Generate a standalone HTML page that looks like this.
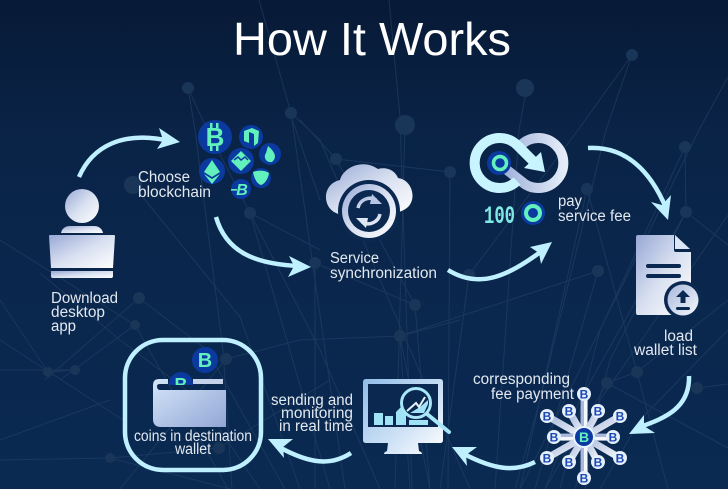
<!DOCTYPE html>
<html><head><meta charset="utf-8"><style>
html,body{margin:0;padding:0;background:#0a2850;width:728px;height:489px;overflow:hidden}
svg{display:block}
text{font-family:"Liberation Sans",sans-serif}
.l{font-size:15.5px;fill:#e2e8f0}
.c{font-family:"Liberation Sans",sans-serif;font-weight:bold}
</style></head><body>
<svg width="728" height="489" viewBox="0 0 728 489" xmlns="http://www.w3.org/2000/svg">
<defs>
<linearGradient id="bg" x1="0" y1="0" x2="0" y2="1"><stop offset="0" stop-color="#071a37"/><stop offset=".3" stop-color="#0a2448"/><stop offset="1" stop-color="#0a2a52"/></linearGradient>
<linearGradient id="g" x1="0" y1="0" x2="1" y2="1"><stop offset="0" stop-color="#98a8d6"/><stop offset=".5" stop-color="#d8e0f0"/><stop offset="1" stop-color="#fff"/></linearGradient>
<linearGradient id="gm" x1="0" y1="0" x2="1" y2="1"><stop offset="0" stop-color="#90bce8"/><stop offset=".6" stop-color="#cfe2f6"/><stop offset="1" stop-color="#fff"/></linearGradient>
<linearGradient id="gw" x1="0" y1="0" x2="1" y2="1"><stop offset="0" stop-color="#d4e6f8"/><stop offset="1" stop-color="#92a6d6"/></linearGradient>
<linearGradient id="gi" x1="0" y1="0" x2="1" y2="1"><stop offset="0" stop-color="#a9b8dc"/><stop offset="1" stop-color="#f4f8fc"/></linearGradient>
<linearGradient id="gs" x1="0" y1="0" x2="1" y2="0"><stop offset="0" stop-color="#a3b4dc"/><stop offset="1" stop-color="#e4ecf8"/></linearGradient>
<clipPath id="cw"><rect x="160" y="360" width="50" height="25"/></clipPath>
</defs>
<rect width="728" height="489" fill="url(#bg)"/>

<!-- network -->
<g stroke="#27466c" stroke-width="1" fill="none" opacity=".55">
<path d="M259 0L291 113L345 489M291 113L320 140L470 489M389 0L400 117L412 489M405 125L395 489M188 88L195 130L223 350L232 489M188 88L205 125L320 350L380 489"/>
<path d="M525 97L519 130L495 489M632 55L578 130L469 275L440 489M632 55L606 130L540 400L515 489M728 77L699 130L640 250L520 489M336 159L450 172L448 489M336 159L300 120M336 159L415 305L430 489M315 263L315 489M315 263L415 305M133 185L240 317L300 489"/>
<path d="M250 213L320 250M250 213L330 489M290 113L320 200M400 336L598 271L535 489M400 336L410 489M587 189L637 372L668 489M587 189L520 489M685 147L600 330L560 489M686 212L580 400L545 489M686 212L728 245M685 147L686 212L610 360L575 489M728 215L600 400L585 489"/>
<path d="M607 383L728 448M637 372L607 383M637 372L728 300M697 388L728 384M607 383L545 489M728 330L640 420L600 489"/>
<path d="M0 240L135 325L228 489M40 273L120 340L200 400L260 489M139 298L45 380M139 298L207 350L285 489M135 325L60 380M0 370L75 370L48 372M0 460L110 458L219 448M0 340L123 420M0 440L110 400M219 448L330 380M226 359L120 489M226 359L300 340L400 336L430 489M400 336L460 320M110 458L230 489M0 300L48 372"/>
</g>
<g fill="#193557">
<circle cx="188" cy="88" r="6"/><circle cx="291" cy="113" r="6"/><circle cx="525" cy="88" r="9"/><circle cx="632" cy="55" r="6"/><circle cx="405" cy="125" r="10"/>
<circle cx="133" cy="185" r="9"/><circle cx="250" cy="213" r="6"/><circle cx="139" cy="298" r="6"/><circle cx="315" cy="263" r="6"/><circle cx="336" cy="159" r="6"/><circle cx="450" cy="172" r="6"/><circle cx="415" cy="305" r="6"/><circle cx="469" cy="275" r="6"/><circle cx="400" cy="336" r="6"/><circle cx="598" cy="271" r="6"/><circle cx="587" cy="189" r="6"/><circle cx="685" cy="147" r="6"/><circle cx="686" cy="212" r="6"/><circle cx="226" cy="359" r="6"/><circle cx="219" cy="448" r="6"/><circle cx="110" cy="458" r="5"/><circle cx="607" cy="383" r="6"/><circle cx="637" cy="372" r="6"/><circle cx="697" cy="388" r="6"/><circle cx="135" cy="325" r="5"/><circle cx="75" cy="370" r="5"/><circle cx="48" cy="372" r="5"/>
</g>

<text x="372" y="55" text-anchor="middle" font-size="46" fill="#fff" textLength="278" lengthAdjust="spacingAndGlyphs">How It Works</text>

<!-- arrows -->
<g fill="none" stroke="#bff0ff" stroke-width="4.5">
<path d="M79 177C92 147 122 130 170 141"/>
<path d="M216 217C226 252 255 264 298 266"/>
<path d="M448 270C480 290 510 275 543 250"/>
<path d="M588 148C625 146 650 170 666 208"/>
<path d="M689 376C690 408 665 418 640 427"/>
<path d="M535 462C515 472 495 470 464 454"/>
<path d="M351 453C331 466 310 464 279 447"/>
</g>
<g fill="#bff0ff">
<path d="M159 128L180 142L157 149L163 140Z"/>
<path d="M289 256L311 267L288 277L294 266Z"/>
<path d="M530 247L552 242L541 264L539 253Z"/>
<path d="M651 202L668 220L671 195L662 205Z"/>
<path d="M644 415L629 434L655 433L644 426Z"/>
<path d="M477 447L452 447L467 466L466 455Z"/>
<path d="M293 439L268 439L284 458L283 447Z"/>
</g>

<!-- person -->
<circle cx="82" cy="206" r="17" fill="url(#g)"/>
<path d="M61 233C62 228 66 226 70 226H94C98 226 102 228 103 233Z" fill="url(#g)"/>
<path d="M50 235H114Q115 235 115 236L113 268H51L49 236Q49 235 50 235Z" fill="url(#g)"/>
<path d="M51 271H113V276Q113 278 111 278H53Q51 278 51 276Z" fill="url(#g)"/>
<text class="l" x="51" y="303" textLength="67" lengthAdjust="spacingAndGlyphs">Download</text>
<text class="l" x="51" y="317" textLength="54" lengthAdjust="spacingAndGlyphs">desktop</text>
<text class="l" x="51" y="331" textLength="25" lengthAdjust="spacingAndGlyphs">app</text>

<!-- crypto cluster -->
<g fill="#0a3aa0">
<circle cx="215" cy="137" r="17"/>
<circle cx="251" cy="137" r="12"/>
<circle cx="270" cy="154" r="11"/>
<circle cx="241" cy="161" r="13"/>
<circle cx="212" cy="171" r="13"/>
<circle cx="261" cy="178" r="10"/>
<circle cx="241" cy="189" r="10"/>
</g>
<g fill="#62f0bc">
<text class="c" x="215" y="146" font-size="26" text-anchor="middle">B</text>
<rect x="210" y="123" width="2.5" height="5"/><rect x="216" y="123" width="2.5" height="5"/><rect x="210" y="146" width="2.5" height="5"/><rect x="216" y="146" width="2.5" height="5"/>
<path d="M244 131L252 128L259 131L258 143L254 146V134L249 132V143L244 141Z"/>
<path d="M268 146C274 151 278 157 272 162C266 163 263 157 266 153Z"/>
<path d="M241 151L251 161L241 171L231 161Z"/>
<path d="M212 160L220 172L212 177L204 172Z"/><path d="M204 174L212 179L220 174L212 184Z"/>
<path d="M253 172C258 170 265 170 269 173C268 180 264 184 261 185C257 184 254 178 253 172Z"/>
<text class="c" x="242" y="195" font-size="16" text-anchor="middle" font-style="italic">B</text>
<rect x="231" y="189" width="6" height="1.6"/>
</g>
<path d="M234 160L238 157L241 160L245 157L248 160" fill="none" stroke="#0a3aa0" stroke-width="1.5"/>
<text class="l" x="138" y="182" textLength="52" lengthAdjust="spacingAndGlyphs">Choose</text>
<text class="l" x="138" y="197" textLength="73" lengthAdjust="spacingAndGlyphs">blockchain</text>

<!-- cloud -->
<g fill="url(#g)">
<path d="M336 213C322 207 322 184 340 180C343 168 362 158 378 169C388 166 396 172 398 178C412 180 417 198 408 207C404 211 396 213 390 215H340Z"/>
</g>
<circle cx="369" cy="211" r="31" fill="#0a2850"/>
<circle cx="369" cy="211" r="27" fill="url(#g)"/>
<circle cx="369" cy="211" r="21" fill="#0a2850"/>
<g fill="none" stroke="url(#gi)" stroke-width="3.5">
<path d="M358 208A12 12 0 0 1 376 200"/><path d="M380 214A12 12 0 0 1 362 222"/>
</g>
<path d="M372 194L382 204L370 204Z" fill="#b8c6e4"/><path d="M366 228L356 218L368 218Z" fill="#dfe7f4"/>
<text class="l" x="330" y="263" textLength="49" lengthAdjust="spacingAndGlyphs">Service</text>
<text class="l" x="330" y="278" textLength="107" lengthAdjust="spacingAndGlyphs">synchronization</text>

<!-- infinity -->
<g fill="none" stroke-width="10">
<path d="M521 145A25 25 0 1 1 521 181L507 170" stroke="url(#gs)"/>
<path d="M517 181A25 25 0 1 1 517 145L535 163" stroke="#c8f4ff"/>
</g>
<path d="M524 168L545 172L541 152Z" fill="#c8f4ff"/>
<circle cx="499" cy="163" r="12" fill="#0a3aa0"/>
<circle cx="500" cy="163" r="6.500" fill="none" stroke="#62f0bc" stroke-width="3.5"/>
<text x="484" y="223" font-size="25" font-weight="bold" fill="#7fe8e4" textLength="31" lengthAdjust="spacingAndGlyphs" style="font-family:'Liberation Mono',monospace">100</text>
<circle cx="533" cy="213" r="12" fill="#0a3aa0"/>
<circle cx="533" cy="213" r="7" fill="none" stroke="#62f0bc" stroke-width="4"/>
<text class="l" x="558" y="206" textLength="24" lengthAdjust="spacingAndGlyphs">pay</text>
<text class="l" x="558" y="221" textLength="73" lengthAdjust="spacingAndGlyphs">service fee</text>

<!-- document -->
<path d="M638 235H674V250Q674 252 676 252H691V315H638Q636 315 636 313V237Q636 235 638 235Z" fill="url(#g)"/>
<path d="M675 235L690 249H675Z" fill="#dce6f5"/>
<rect x="646" y="264" width="35" height="4" rx="2" fill="#0a2850"/><rect x="646" y="274" width="35" height="4" rx="2" fill="#0a2850"/>
<circle cx="683" cy="300" r="19" fill="#0a2850"/>
<circle cx="683" cy="300" r="15.5" fill="url(#gi)"/>
<path d="M683 290L690 297H685.500V303H680.500V297H676Z" fill="#0a2850"/>
<rect x="676" y="307" width="14" height="3" rx="1.500" fill="#0a2850"/>
<text class="l" x="664" y="341" textLength="29" lengthAdjust="spacingAndGlyphs">load</text>
<text class="l" x="634" y="355" textLength="63" lengthAdjust="spacingAndGlyphs">wallet list</text>

<!-- hub -->
<g stroke="url(#gi)" stroke-width="7">
<path d="M584 437L584.100 394"/><path d="M584 437L547 416"/><path d="M584 437L569 411"/><path d="M584 437L598 411"/><path d="M584 437L620 416"/><path d="M584 437L554 437.100"/><path d="M584 437L613 437.100"/><path d="M584 437L547 458"/><path d="M584 437L569 462"/><path d="M584 437L598 462"/><path d="M584 437L620 458"/><path d="M584 437L584.100 478"/>
</g>
<circle cx="584" cy="437" r="10" fill="#0a3aa0" stroke="#e8f4ff" stroke-width="2"/>
<text class="c" x="584" y="442" font-size="14" fill="#62f0bc" text-anchor="middle">B</text>
<g fill="#e6f0fb">
<circle cx="584" cy="394" r="7"/><circle cx="547" cy="416" r="7"/><circle cx="569" cy="411" r="7"/><circle cx="598" cy="411" r="7"/><circle cx="620" cy="416" r="7"/><circle cx="554" cy="437" r="7"/><circle cx="613" cy="437" r="7"/><circle cx="547" cy="458" r="7"/><circle cx="569" cy="462" r="7"/><circle cx="598" cy="462" r="7"/><circle cx="620" cy="458" r="7"/><circle cx="584" cy="478" r="7"/>
</g>
<g class="c" font-size="12" fill="#1a48b0" text-anchor="middle" font-weight="bold">
<text x="584" y="398.500">B</text><text x="547" y="420.500">B</text><text x="569" y="415.500">B</text><text x="598" y="415.500">B</text><text x="620" y="420.500">B</text><text x="554" y="441.500">B</text><text x="613" y="441.500">B</text><text x="547" y="462.500">B</text><text x="569" y="466.500">B</text><text x="598" y="466.500">B</text><text x="620" y="462.500">B</text><text x="584" y="482.500">B</text>
</g>
<text class="l" x="473" y="384" textLength="97" lengthAdjust="spacingAndGlyphs">corresponding</text>
<text class="l" x="491" y="399" textLength="83" lengthAdjust="spacingAndGlyphs">fee payment</text>

<!-- monitor -->
<path d="M366 379H440Q443 379 443 382V440Q443 443 440 443H418L419 451Q422 452 422 454H384Q384 452 387 451L388 443H366Q363 443 363 440V382Q363 379 366 379Z" fill="url(#gm)"/>
<rect x="368" y="384" width="70" height="43" fill="#0a2850"/>
<g fill="#a0e2f6">
<rect x="374" y="413" width="9" height="12"/><rect x="385" y="416" width="8" height="9"/>
<path d="M396 425V412L402 406L406 412V425Z"/>
<path d="M409 425V420H428V425Z"/>
</g>
<circle cx="416" cy="403" r="14.500" fill="#0a2850" stroke="#a8e6f8" stroke-width="3"/>
<path d="M410 413H424L428 404V400L420 407Z" fill="#a0e2f6"/>
<path d="M407 411L416 403L419 407L425 397" fill="none" stroke="#e6f2fa" stroke-width="2"/>
<path d="M427 414L449 432" stroke="#a8e6f8" stroke-width="4" stroke-linecap="round"/>
<text class="l" x="271" y="405" textLength="82" lengthAdjust="spacingAndGlyphs">sending and</text>
<text class="l" x="281" y="418" textLength="72" lengthAdjust="spacingAndGlyphs">monitoring</text>
<text class="l" x="279" y="431" textLength="74" lengthAdjust="spacingAndGlyphs">in real time</text>

<!-- wallet -->
<rect x="125" y="340" width="136" height="130" rx="38" ry="38" fill="none" stroke="#bff0ff" stroke-width="4.500"/>
<circle cx="205" cy="360" r="13" fill="#0a3aa0"/>
<text class="c" x="205" y="367" font-size="20" fill="#62f0bc" text-anchor="middle">B</text>
<g clip-path="url(#cw)">
<circle cx="181" cy="384" r="12" fill="#0a3aa0"/>
<text class="c" x="181" y="391" font-size="18" fill="#62f0bc" text-anchor="middle">B</text>
</g>
<path d="M159 379H168V384H160Q157 384 157 386Q157 390 160 390H226V427H161Q153 427 153 419V385Q153 379 159 379Z" fill="url(#gw)"/>
<rect x="193" y="379" width="30" height="5" fill="#c4d2ea"/>
<text class="l" x="134" y="441" textLength="118" lengthAdjust="spacingAndGlyphs">coins in destination</text>
<text class="l" x="175" y="454" textLength="36" lengthAdjust="spacingAndGlyphs">wallet</text>
</svg>
</body></html>
